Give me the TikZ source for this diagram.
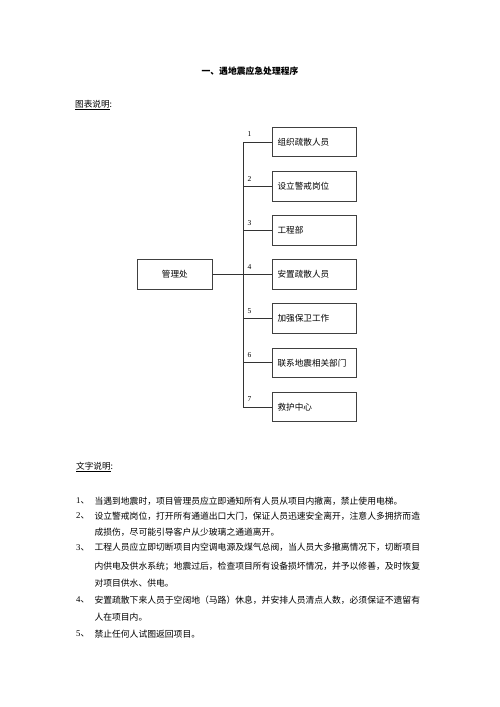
\documentclass[tikz,border=0pt]{standalone}
\usepackage{fontspec}
\setmainfont{Liberation Serif}
\newfontfamily\cjk{Noto Sans CJK SC}
\begin{document}
\begin{tikzpicture}[x=1pt,y=-1pt,
  stagebox/.style={draw=black!75,line width=0.8pt,minimum height=29.5pt,text width=73.2pt,inner xsep=5.4pt,align=left,font=\cjk\fontsize{8.6}{10}\selectfont},
  headbox/.style={draw=black!75,line width=0.8pt,minimum height=29.5pt,minimum width=75pt,font=\cjk\fontsize{8.6}{10}\selectfont},
  link/.style={draw=black!80,line width=0.6pt},
  numlabel/.style={font=\fontsize{7.5}{9}\selectfont,inner sep=0pt},
  bodyline/.style={anchor=west,inner sep=0pt,font=\cjk\fontsize{8.8}{10}\selectfont},
  numtext/.style={anchor=west,inner sep=0pt,font=\fontsize{8.8}{10}\selectfont}
]
\useasboundingbox (0,0) rectangle (500,707);
\fill[white] (0,0) rectangle (500,707);

\node[font=\cjk\bfseries\fontsize{8.8}{10}\selectfont,inner sep=0pt] (title) at (250,71) {一、遇地震应急处理程序};
\node[anchor=west,inner sep=0pt,font=\cjk\fontsize{8.6}{10}\selectfont] (chart) at (75,105) {\underline{图表说明}:};

\foreach \i/\t in {1/组织疏散人员,2/设立警戒岗位,3/工程部,4/安置疏散人员,5/加强保卫工作,6/联系地震相关部门,7/救护中心}{
  \pgfmathsetmacro{\yy}{142+44.15*(\i-1)}
  \node[stagebox] (b\i) at (314.2,\yy) {\t};
  \coordinate (j\i) at (243.3,\yy);
  \draw[link] (j\i) -- (b\i.west);
  \node[numlabel] (n\i) at (249.5,\yy-7.5) {\i};
}
\draw[link] (j1) -- (j7);
\node[headbox] (m) at (174.8,274.5) {管理处};
\draw[link] (m.east) -- (j4);

\node[anchor=west,inner sep=0pt,font=\cjk\fontsize{8.6}{10}\selectfont] (textnote) at (76,467) {\underline{文字说明}:};

\node[numtext] (i1) at (76,501) {1{\cjk 、}};
\node[bodyline] (l1) at (94.3,501) {当遇到地震时，项目管理员应立即通知所有人员从项目内撤离，禁止使用电梯。};
\node[numtext] (i2) at (76,516) {2{\cjk 、}};
\node[bodyline] (l2a) at (94.3,516) {设立警戒岗位，打开所有通道出口大门，保证人员迅速安全离开，注意人多拥挤而造};
\node[bodyline] (l2b) at (94.3,532) {成损伤，尽可能引导客户从少玻璃之通道离开。};
\node[numtext] (i3) at (76,547.5) {3{\cjk 、}};
\node[bodyline] (l3a) at (94.3,547.5) {工程人员应立即切断项目内空调电源及煤气总阀，当人员大多撤离情况下，切断项目};
\node[bodyline] (l3b) at (94.3,566.5) {内供电及供水系统；地震过后，检查项目所有设备损坏情况，并予以修善，及时恢复};
\node[bodyline] (l3c) at (94.3,583) {对项目供水、供电。};
\node[numtext] (i4) at (76,600) {4{\cjk 、}};
\node[bodyline] (l4a) at (94.3,600) {安置疏散下来人员于空阔地（马路）休息，并安排人员清点人数，必须保证不遗留有};
\node[bodyline] (l4b) at (94.3,617) {人在项目内。};
\node[numtext] (i5) at (76,634) {5{\cjk 、}};
\node[bodyline] (l5) at (94.3,634) {禁止任何人试图返回项目。};
\end{tikzpicture}
\end{document}
